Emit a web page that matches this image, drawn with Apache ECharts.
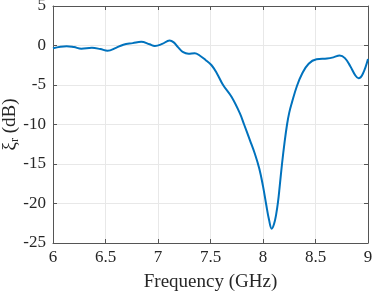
<!DOCTYPE html>
<html><head><meta charset="utf-8">
<script src="https://cdn.jsdelivr.net/npm/echarts@6/dist/echarts.min.js"></script>
<style>html,body{margin:0;padding:0;background:#fff}#c{width:374px;height:292px}</style>
</head><body><div id="c"></div>
<script>
const freq = [6.00,6.07,6.13,6.20,6.27,6.37,6.45,6.52,6.60,6.67,6.76,6.84,6.92,6.97,7.04,7.11,7.15,7.19,7.24,7.29,7.35,7.40,7.45,7.51,7.56,7.62,7.70,7.78,7.82,7.876,7.92,7.965,8.00,8.03,8.058,8.083,8.105,8.125,8.143,8.16,8.181,8.205,8.229,8.25,8.276,8.324,8.371,8.435,8.51,8.61,8.67,8.73,8.78,8.83,8.88,8.91,8.95,9.00];
const xiR = [-0.35,-0.15,-0.08,-0.2,-0.4,-0.3,-0.45,-0.67,-0.3,0.1,0.3,0.47,0.15,-0.05,0.2,0.63,0.4,-0.2,-0.85,-1.05,-0.97,-1.3,-1.8,-2.5,-3.5,-5.0,-6.5,-8.6,-10,-12,-13.6,-15.6,-17.8,-20.1,-22.1,-23.2,-22.6,-21.4,-19.8,-17.7,-15,-12.3,-10,-8.5,-7.2,-5.1,-3.6,-2.3,-1.75,-1.65,-1.5,-1.27,-1.6,-2.6,-3.8,-4.15,-3.6,-1.7];
const xTicks = {min:6, max:9, interval:0.5};
const yTicks = {min:-25, max:5, interval:5};

const font = 'Liberation Serif';
const axisCol = '#555';
const txtCol = '#262626';
const chart = echarts.init(document.getElementById('c'), null, {renderer:'canvas'});
const boxAxis = {
  axisLine:{show:true, onZero:false, lineStyle:{color:axisCol, width:1}},
  axisTick:{show:true, inside:true, length:4, lineStyle:{color:axisCol}},
  axisLabel:{show:false}, splitLine:{show:false}
};
chart.setOption({
  animation:false,
  grid:{left:53, right:6, top:6, bottom:49, containLabel:false, outerBoundsMode:'none'},
  xAxis:[{
    type:'value', min:xTicks.min, max:xTicks.max, interval:xTicks.interval,
    name:'Frequency (GHz)', nameLocation:'middle', nameGap:30, nameMoveOverlap:false,
    nameTextStyle:{fontFamily:font, fontSize:19, color:txtCol},
    axisLine:{show:true, onZero:false, lineStyle:{color:axisCol}},
    axisTick:{show:true, inside:true, length:4, lineStyle:{color:axisCol}},
    axisLabel:{fontFamily:font, fontSize:17, color:txtCol, margin:6},
    splitLine:{show:true, lineStyle:{color:'#e8e8e8', width:1}}
  },{
    type:'value', position:'top', min:xTicks.min, max:xTicks.max, interval:xTicks.interval, ...boxAxis
  }],
  yAxis:[{
    type:'value', min:yTicks.min, max:yTicks.max, interval:yTicks.interval,
    name:'{a|ξ}{s|r}{a| (dB)}', nameLocation:'middle', nameGap:32, nameMoveOverlap:false,
    nameTextStyle:{fontFamily:font, fontSize:19, color:txtCol,
      rich:{a:{fontFamily:font, fontSize:19, lineHeight:22, color:txtCol},
            s:{fontFamily:font, fontSize:12, lineHeight:12, verticalAlign:'bottom', color:txtCol}}},
    axisLine:{show:true, onZero:false, lineStyle:{color:axisCol}},
    axisTick:{show:true, inside:true, length:4, lineStyle:{color:axisCol}},
    axisLabel:{fontFamily:font, fontSize:17, color:txtCol, margin:7},
    splitLine:{show:true, lineStyle:{color:'#e8e8e8', width:1}}
  },{
    type:'value', position:'right', min:yTicks.min, max:yTicks.max, interval:yTicks.interval, ...boxAxis
  }],
  series:[{
    type:'line', data:freq.map((f,i)=>[f, xiR[i]]), smooth:0.4, showSymbol:false,
    lineStyle:{color:'#0072BD', width:2}, clip:true
  }]
});
</script></body></html>
